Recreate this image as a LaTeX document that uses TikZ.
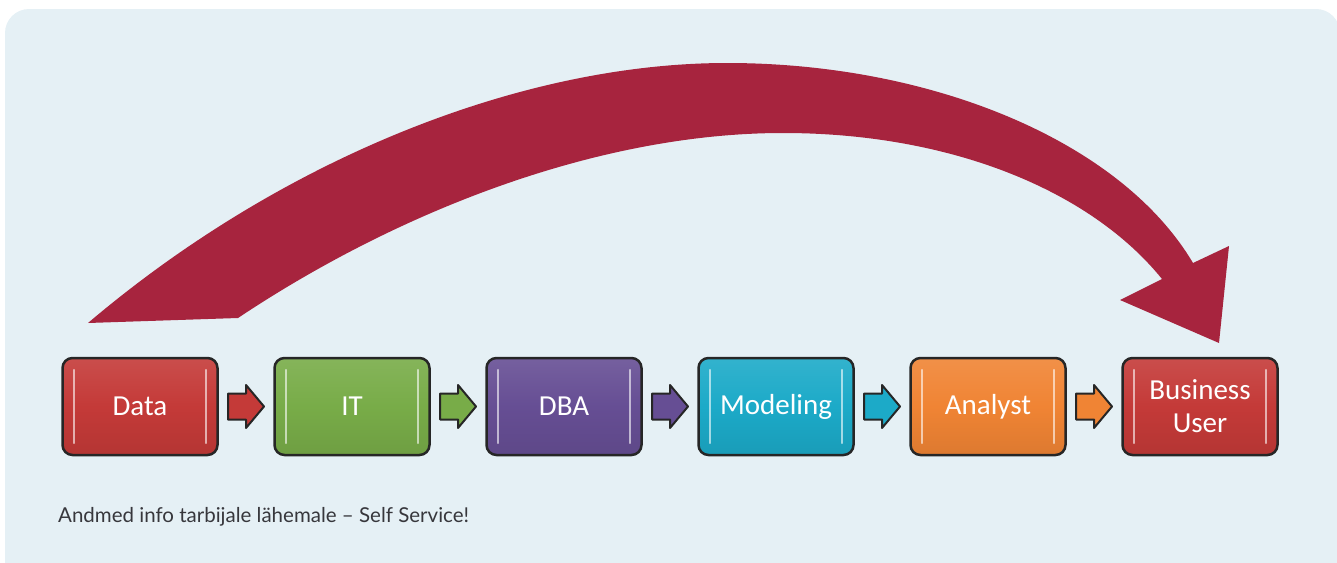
\documentclass[tikz,border=0pt]{standalone}
\usepackage{fontspec}
\newfontfamily\boxfont{Carlito}
\newfontfamily\capfont{Lato}
\usetikzlibrary{calc}
\definecolor{panel}{RGB}{229,240,245}
\definecolor{bigred}{RGB}{167,36,62}
\definecolor{cData}{RGB}{196,58,56}
\definecolor{cIT}{RGB}{120,172,72}
\definecolor{cDBA}{RGB}{102,78,148}
\definecolor{cMod}{RGB}{28,170,200}
\definecolor{cAna}{RGB}{240,132,52}
\definecolor{capgray}{RGB}{55,55,60}
\tikzset{
  stage/.style={draw=black!85, line width=2.5pt, rounded corners=10pt,
    minimum width=155pt, minimum height=97pt, text=white,
    font=\boxfont\fontsize{29}{33}\selectfont, align=center,
    top color=#1!90!white, bottom color=#1!92!black, middle color=#1},
  gloss/.style={white, opacity=0.6, line width=1.8pt, line cap=round},
  steparrow/.style={line width=2pt, line join=round, draw=black!85, fill=#1},
  bigarrow/.style={fill=bigred},
  caption/.style={anchor=base west, inner sep=0pt, text=capgray,
    font=\capfont\fontsize{20.5}{24}\selectfont}
}
\begin{document}
\begin{tikzpicture}[x=1pt,y=-1pt]
\useasboundingbox (0,0) rectangle (1337,562);
\begin{scope}
  \clip (0,0) rectangle (1337,562);
  \fill[panel, rounded corners=24pt] (5,9) rectangle (1340,600);
\end{scope}

% big arrow
\fill[bigarrow] (88,323) .. controls (280,160) and (520,63) .. (727,63)
  .. controls (930,63) and (1120,140) .. (1193,263)
  -- (1229,246) -- (1219,343) -- (1120,300) -- (1162,279)
  .. controls (1090,190) and (950,133) .. (783,133)
  .. controls (600,133) and (400,210) .. (238,318) -- cycle;

% stages
\node[stage=cData] (data) at (140,406.5) {Data};
\node[stage=cIT]   (it)   at (352,406.5) {IT};
\node[stage=cDBA]  (dba)  at (564,406.5) {DBA};
\node[stage=cMod]  (mod)  at (776,406.5) {Modeling};
\node[stage=cAna]  (ana)  at (988,406.5) {Analyst};
\node[stage=cData] (bus)  at (1200,406.5) {Business\\User};

\foreach \n in {data,it,dba,mod,ana,bus}{
  \draw[gloss] ($(\n.north west)+(13,13)$) -- ($(\n.south west)+(13,-13)$);
  \draw[gloss] ($(\n.north east)+(-13,13)$) -- ($(\n.south east)+(-13,-13)$);
}

% step arrows
\foreach \a/\b/\c in {data/it/cData, it/dba/cIT, dba/mod/cDBA, mod/ana/cMod, ana/bus/cAna}{
  \coordinate (m-\a) at ($(\a.east)!0.5!(\b.west)$);
  \draw[steparrow=\c] ($(m-\a)+(-18,-13)$) -- ($(m-\a)+(0,-13)$) -- ($(m-\a)+(0,-21.5)$)
    -- ($(m-\a)+(18,0)$) -- ($(m-\a)+(0,21.5)$) -- ($(m-\a)+(0,13)$)
    -- ($(m-\a)+(-18,13)$) -- cycle;
}

\node[caption] (cap) at (58,522) {Andmed info tarbijale lähemale – Self Service!};
\end{tikzpicture}
\end{document}
